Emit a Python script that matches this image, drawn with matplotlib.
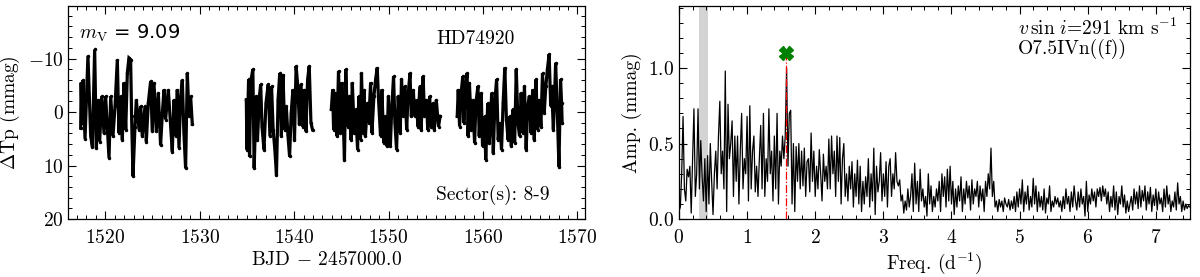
import numpy as np
import matplotlib
matplotlib.use("Agg")
import matplotlib.pyplot as plt
from matplotlib.ticker import MultipleLocator

plt.rcParams['font.family'] = 'serif'
plt.rcParams['font.serif'] = ['cmr10']
plt.rcParams['mathtext.fontset'] = 'cm'
plt.rcParams['axes.formatter.use_mathtext'] = True
plt.rcParams['axes.unicode_minus'] = True

# ---------------- light curve (BJD-2457000, mmag) ----------------
t_seg1 = [1517.40, 1517.45, 1517.55, 1517.64, 1517.86, 1518.17, 1518.46, 1518.64, 1518.88, 1519.06,
          1519.27, 1519.41, 1519.63, 1519.87, 1520.04, 1520.40, 1520.58, 1520.82, 1521.04, 1521.28,
          1521.45, 1521.64, 1521.81, 1521.98, 1522.17, 1522.34, 1522.51, 1522.69, 1522.79, 1522.94,
          1523.15, 1523.29, 1523.58, 1523.75, 1523.92, 1524.21, 1524.35, 1524.56, 1524.81, 1524.98,
          1525.16, 1525.41, 1525.62, 1525.86, 1526.05, 1526.22, 1526.39, 1526.68, 1526.93, 1527.10,
          1527.28, 1527.46, 1527.63, 1527.81, 1527.99, 1528.16, 1528.33, 1528.51, 1528.69, 1528.87,
          1529.04, 1529.22]
m_seg1 = [3.0, -5.5, 2.0, -6.0, 5.0, -10.5, 4.5, 6.5, -11.7, 6.7,
          -2.3, 5.5, -3.0, 4.0, -3.0, 8.6, -3.0, 4.5, -1.1, -9.8,
          3.9, -3.0, 5.2, -5.5, 3.3, -7.3, -10.1, -9.8, 0.8, 12.0,
          2.7, -2.3, 3.3, -1.1, 4.5, -1.1, 5.5, -1.7, -5.8, 3.6,
          -5.5, 3.6, -3.6, 6.2, 0.2, -4.2, 1.4, -4.2, 2.7, 7.4,
          -2.3, 4.5, -4.2, 6.7, -3.0, -6.0, 3.9, 10.5, -7.3, 0.8,
          -3.0, 2.3]

t_seg2 = [1534.94, 1535.00, 1535.18, 1535.28, 1535.42, 1535.63, 1535.77, 1535.98, 1536.12, 1536.33,
          1536.46, 1536.60, 1536.81, 1537.02, 1537.26, 1537.44, 1537.61, 1537.78, 1537.96, 1538.13,
          1538.30, 1538.48, 1538.65, 1538.82, 1539.00, 1539.17, 1539.34, 1539.52, 1539.69, 1539.87,
          1540.04, 1540.21, 1540.39, 1540.56, 1540.73, 1540.91, 1541.08, 1541.25, 1541.43, 1541.60,
          1541.78, 1541.95]
m_seg2 = [-2.3, 7.0, -6.1, 8.3, -5.8, -8.0, 10.5, -3.0, 5.2, -3.0,
          -5.2, 2.7, 7.0, -1.7, -5.2, 4.5, -4.8, 3.3, 7.0, 11.7,
          -2.3, -7.3, 4.5, -7.0, 3.3, -1.1, 4.2, 8.3, 0.2, -4.2,
          5.2, -8.6, -4.8, 2.3, -5.2, 2.7, -4.2, 3.6, -6.1, -8.6,
          2.0, 3.3]

t_seg3 = [1543.94, 1544.08, 1544.18, 1544.35, 1544.53, 1544.70, 1544.88, 1545.05, 1545.22, 1545.33,
          1545.47, 1545.67, 1545.81, 1546.02, 1546.16, 1546.37, 1546.51, 1546.72, 1546.85, 1547.03,
          1547.13, 1547.31, 1547.41, 1547.55, 1547.76, 1547.90, 1548.10, 1548.24, 1548.45, 1548.63,
          1548.80, 1548.94, 1549.15, 1549.29, 1549.49, 1549.63, 1549.84, 1549.98, 1550.19, 1550.33,
          1550.53, 1550.67, 1550.85, 1551.02, 1551.23, 1551.37, 1551.58, 1551.72, 1551.92, 1552.06,
          1552.27, 1552.41, 1552.62, 1552.76, 1552.97, 1553.10, 1553.31, 1553.45, 1553.66, 1553.80,
          1554.01, 1554.15, 1554.35, 1554.49, 1554.70, 1554.84, 1555.05, 1555.29, 1555.46]
m_seg3 = [-0.5, -4.2, 3.3, -3.6, 4.5, -7.7, 3.9, -5.5, 2.7, 8.9,
          -8.0, 2.7, -3.0, 5.2, -5.5, 3.9, -0.5, 7.0, -3.0, 5.2,
          -7.3, 3.9, -4.2, 4.5, -1.7, 2.0, -5.5, 3.9, -3.0, -6.1,
          -8.3, -2.3, 4.5, -4.2, 5.8, 0.8, 6.4, -3.0, 6.4, -0.5,
          -6.7, 2.0, 7.0, -3.0, 3.9, -6.1, 0.8, -4.8, 3.3, -3.0,
          -7.3, 0.8, -4.2, 0.8, -2.3, 2.7, -4.8, 3.3, -6.7, 0.8,
          -2.3, 3.3, -3.0, 2.7, -1.7, 3.3, -2.3, 2.7, 0.8]

t_seg4 = [1557.27, 1557.38, 1557.52, 1557.72, 1557.86, 1557.97, 1558.14, 1558.32, 1558.42, 1558.56,
          1558.77, 1558.91, 1559.11, 1559.25, 1559.46, 1559.60, 1559.81, 1559.95, 1560.16, 1560.29,
          1560.50, 1560.64, 1560.75, 1560.92, 1561.09, 1561.27, 1561.44, 1561.61, 1561.79, 1561.96,
          1562.13, 1562.31, 1562.48, 1562.66, 1562.83, 1563.00, 1563.18, 1563.35, 1563.52, 1563.70,
          1563.87, 1564.04, 1564.22, 1564.39, 1564.57, 1564.74, 1564.91, 1565.09, 1565.26, 1565.43,
          1565.61, 1565.78, 1565.95, 1566.13, 1566.30, 1566.48, 1566.65, 1566.82, 1567.00, 1567.17,
          1567.27, 1567.45, 1567.59, 1567.69, 1567.86, 1568.04, 1568.21, 1568.32, 1568.38]
m_seg4 = [0.8, -4.2, 2.7, -4.2, -6.7, 2.0, -4.8, -7.3, 4.5, -5.5,
          3.3, -2.3, 5.8, -1.7, -4.8, 4.5, -3.6, 6.4, 0.8, 8.9,
          -1.7, 5.8, 3.3, -3.6, 7.7, -2.3, -6.1, 5.2, 2.0, 7.0,
          -1.7, -8.3, 1.4, 5.2, 0.8, 6.4, -0.5, 5.8, -8.0, 2.0,
          4.5, -3.6, 3.9, -4.8, 7.0, -1.1, -3.0, 3.9, -4.2, 5.2,
          -6.1, 3.3, -2.3, 2.7, -7.3, 0.2, -4.8, -8.0, -10.8, -1.1,
          -4.8, 3.3, -3.6, -9.2, -0.5, 10.2, -6.1, -1.7, 2.0]

segments = [(t_seg1, m_seg1), (t_seg2, m_seg2), (t_seg3, m_seg3), (t_seg4, m_seg4)]

# ---------------- amplitude spectrum (step 0.02 d^-1 from 0) ----------------
freq_step = 0.02
amp = [
    0.05, 0.08, 0.30, 0.68, 0.20, 0.12, 0.33, 0.28, 0.35, 0.04,
    0.40, 0.73, 0.15, 0.30, 0.73, 0.20, 0.52, 0.28, 0.12, 0.40,
    0.05, 0.42, 0.10, 0.50, 0.25, 0.03, 0.30, 0.45, 0.20, 0.55,
    0.78, 0.30, 0.45, 0.20, 0.98, 0.05, 0.76, 0.40, 0.50, 0.65,
    0.15, 0.55, 0.25, 0.55, 0.10, 0.45, 0.70, 0.20, 0.40, 0.30,
    0.68, 0.12, 0.75, 0.20, 0.45, 0.55, 0.18, 0.35, 0.15, 0.40,
    0.62, 0.20, 0.70, 0.15, 0.40, 0.25, 0.73, 0.30, 0.45, 0.12,
    0.55, 0.20, 0.70, 0.10, 0.45, 0.35, 0.55, 0.40, 0.55, 1.00,
    0.35, 0.70, 0.72, 0.10, 0.50, 0.05, 0.48, 0.25, 0.50, 0.20,
    0.45, 0.22, 0.47, 0.15, 0.38, 0.40, 0.18, 0.57, 0.25, 0.45,
    0.15, 0.35, 0.20, 0.46, 0.30, 0.12, 0.43, 0.25, 0.35, 0.20,
    0.53, 0.20, 0.55, 0.30, 0.45, 0.15, 0.55, 0.25, 0.54, 0.10,
    0.40, 0.50, 0.15, 0.30, 0.12, 0.35, 0.20, 0.38, 0.08, 0.30,
    0.15, 0.39, 0.10, 0.35, 0.05, 0.25, 0.10, 0.28, 0.15, 0.40,
    0.08, 0.30, 0.12, 0.47, 0.03, 0.35, 0.18, 0.25, 0.44, 0.12,
    0.30, 0.15, 0.38, 0.08, 0.35, 0.40, 0.15, 0.30, 0.20, 0.44,
    0.25, 0.22, 0.26, 0.12, 0.16, 0.04, 0.12, 0.06, 0.20, 0.08,
    0.15, 0.30, 0.05, 0.37, 0.10, 0.25, 0.05, 0.33, 0.12, 0.20,
    0.08, 0.15, 0.02, 0.30, 0.10, 0.22, 0.05, 0.15, 0.08, 0.20,
    0.12, 0.25, 0.05, 0.30, 0.15, 0.28, 0.08, 0.33, 0.12, 0.35,
    0.10, 0.25, 0.03, 0.20, 0.08, 0.22, 0.12, 0.28, 0.05, 0.20,
    0.10, 0.25, 0.14, 0.22, 0.06, 0.26, 0.10, 0.20, 0.15, 0.25,
    0.08, 0.22, 0.12, 0.20, 0.05, 0.25, 0.15, 0.30, 0.20, 0.47,
    0.15, 0.25, 0.08, 0.12, 0.05, 0.13, 0.08, 0.12, 0.05, 0.14,
    0.10, 0.08, 0.13, 0.06, 0.12, 0.07, 0.15, 0.05, 0.18, 0.08,
    0.20, 0.10, 0.26, 0.05, 0.18, 0.10, 0.22, 0.06, 0.15, 0.08,
    0.27, 0.10, 0.22, 0.05, 0.18, 0.08, 0.15, 0.06, 0.20, 0.04,
    0.14, 0.10, 0.22, 0.05, 0.12, 0.08, 0.15, 0.10, 0.14, 0.08,
    0.12, 0.05, 0.15, 0.07, 0.20, 0.10, 0.15, 0.05, 0.18, 0.08,
    0.22, 0.12, 0.06, 0.18, 0.08, 0.20, 0.10, 0.15, 0.02, 0.25,
    0.05, 0.16, 0.10, 0.20, 0.12, 0.18, 0.08, 0.20, 0.15, 0.21,
    0.12, 0.22, 0.15, 0.20, 0.10, 0.18, 0.05, 0.15, 0.08, 0.22,
    0.06, 0.18, 0.03, 0.15, 0.10, 0.22, 0.08, 0.16, 0.04, 0.12,
    0.05, 0.10, 0.15, 0.06, 0.20, 0.10, 0.18, 0.07, 0.22, 0.08,
    0.19, 0.12, 0.22, 0.06, 0.18, 0.10, 0.21, 0.05, 0.16, 0.09,
    0.20, 0.06, 0.18, 0.10, 0.14, 0.05, 0.20, 0.08, 0.22, 0.10,
    0.16, 0.05, 0.12, 0.08, 0.18, 0.06, 0.24, 0.10, 0.15, 0.05,
    0.12, 0.06, 0.10, 0.07, 0.09, 0.08]
freq = np.arange(len(amp)) * freq_step

peak_freq = 1.573
peak_marker_amp = 1.10
window_band = (0.287, 0.432)

# ---------------- figure ----------------
fig = plt.figure(figsize=(12, 2.77), dpi=100)
axL = fig.add_axes([0.057, 0.209, 0.4305, 0.769])
axR = fig.add_axes([0.5658, 0.209, 0.4258, 0.769])

for t, m in segments:
    axL.plot(t, m, color='k', lw=2.3, solid_joinstyle='miter')
    axL.plot(t, m, 'k.', ms=3)

axL.set_xlim(1516.1, 1570.8)
axL.set_ylim(20, -19.8)
axL.xaxis.set_major_locator(MultipleLocator(10))
axL.xaxis.set_minor_locator(MultipleLocator(1))
axL.yaxis.set_major_locator(MultipleLocator(10))
axL.yaxis.set_minor_locator(MultipleLocator(2))
axL.set_xlabel(r'BJD $-$ 2457000.0', fontsize=14, labelpad=3)
axL.set_ylabel(r'$\Delta$Tp (mmag)', fontsize=14, labelpad=4)
axL.text(0.02, 0.87, r'$m_{\rm V}$ = 9.09', transform=axL.transAxes, fontsize=14,
         family='DejaVu Sans', va='center', ha='left')
axL.text(0.712, 0.845, 'HD74920', transform=axL.transAxes, fontsize=14, va='center', ha='left')
axL.text(0.712, 0.115, 'Sector(s): 8-9', transform=axL.transAxes, fontsize=14, va='center', ha='left')

axR.axvspan(window_band[0], window_band[1], color='#d3d3d3', lw=0, zorder=0)
axR.plot(freq, amp, color='k', lw=0.9)
axR.vlines(peak_freq, 0, peak_marker_amp, colors='red', linestyles='dashdot', lw=0.9, zorder=3)
axR.plot([peak_freq], [peak_marker_amp], marker='X', color='green', ms=10, mec='green', zorder=4)
axR.set_xlim(0, 7.5)
axR.set_ylim(0, 1.41)
axR.xaxis.set_major_locator(MultipleLocator(1))
axR.xaxis.set_minor_locator(MultipleLocator(0.2))
axR.yaxis.set_major_locator(MultipleLocator(0.5))
axR.yaxis.set_minor_locator(MultipleLocator(0.1))
axR.set_xlabel(r'Freq. (d$^{-1}$)', fontsize=14, labelpad=3)
axR.set_ylabel('Amp. (mmag)', fontsize=14, labelpad=4)
axR.text(0.663, 0.895, r'$v\,\sin\,i$=291 km s$^{-1}$', transform=axR.transAxes, fontsize=14,
         va='center', ha='left')
axR.text(0.663, 0.80, 'O7.5IVn((f))', transform=axR.transAxes, fontsize=14, va='center', ha='left')

for ax in (axL, axR):
    ax.tick_params(which='both', direction='in', top=True, right=True, labelsize=14)
    ax.tick_params(axis='x', which='major', pad=7)
    ax.tick_params(which='major', length=6, width=0.8)
    ax.tick_params(which='minor', length=3, width=0.7)
    for s in ax.spines.values():
        s.set_linewidth(0.9)

fig.savefig('out.png', dpi=100)
